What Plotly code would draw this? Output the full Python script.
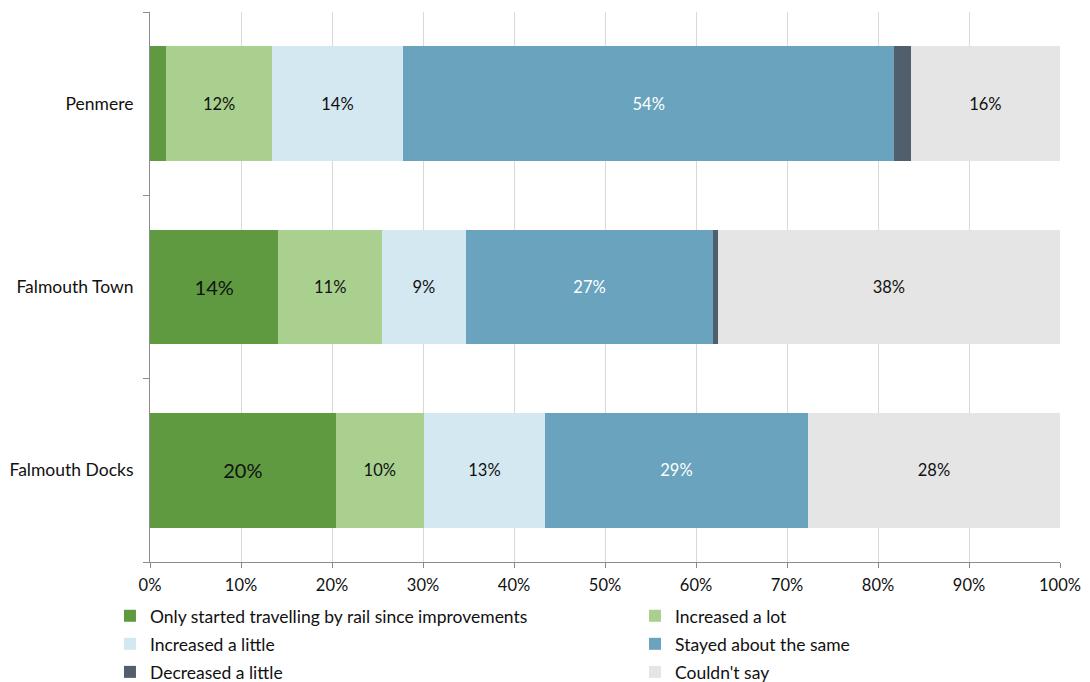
import plotly.graph_objects as go

# Stations (top to bottom as drawn)
stations = ["Penmere", "Falmouth Town", "Falmouth Docks"]

# Share of respondents (%) per response, in station order
only_started = [1.8, 14.1, 20.4]
increased_lot = [11.6, 11.4, 9.7]
increased_little = [14.4, 9.2, 13.3]
stayed_same = [54.0, 27.2, 28.9]
decreased_little = [1.8, 0.5, 0.0]
couldnt_say = [16.4, 37.6, 27.7]

series_names = [
    "Only started travelling by rail since improvements",
    "Increased a lot",
    "Increased a little",
    "Stayed about the same",
    "Decreased a little",
    "Couldn't say",
]
series_values = [only_started, increased_lot, increased_little,
                 stayed_same, decreased_little, couldnt_say]
colors = ["#5F9A40", "#A9D08E", "#D4E8F1", "#69A3BE", "#515F6C", "#E5E5E5"]
label_colors = ["#111111", "#111111", "#111111", "#FFFFFF", "#111111", "#111111"]
label_sizes = [20, 16.5, 16.5, 16.5, 16.5, 16.5]
show_labels = [True, True, True, True, False, True]

x_ticks = list(range(0, 101, 10))
x_tick_text = [f"{t}%" for t in x_ticks]

FONT = "Lato, 'Open Sans', sans-serif"
TEXT = "#111111"

# Legend grid: two columns, three rows; one legend box per entry
legend_cols = [-0.044, 0.533]
legend_rows = [-0.098, -0.149, -0.200]

fig = go.Figure()
legend_layout = {}
for i, (name, vals, col, lcol, lsize, show) in enumerate(zip(
        series_names, series_values, colors, label_colors, label_sizes, show_labels)):
    texts = [f"{round(v)}%" if (show and v >= 3) else "" for v in vals]
    leg_id = "legend" if i == 0 else f"legend{i + 1}"
    fig.add_trace(go.Bar(
        name=name,
        y=stations,
        x=vals,
        orientation="h",
        marker=dict(color=col, line=dict(width=0)),
        text=texts,
        textposition="inside",
        insidetextanchor="middle",
        textangle=0,
        textfont=dict(color=lcol, size=lsize, family=FONT),
        hoverinfo="skip",
        legend=leg_id,
    ))
    legend_layout[leg_id] = dict(
        orientation="h",
        x=legend_cols[i % 2], xanchor="left",
        y=legend_rows[i // 2], yanchor="middle",
        font=dict(size=17.5, family=FONT, color=TEXT),
        itemclick=False,
        bgcolor="rgba(0,0,0,0)",
    )

fig.update_layout(
    barmode="stack",
    bargap=0.373,
    width=1090,
    height=682,
    margin=dict(l=150, r=30, t=12, b=120, autoexpand=False),
    paper_bgcolor="white",
    plot_bgcolor="white",
    font=dict(family=FONT, size=17, color=TEXT),
    showlegend=True,
    xaxis=dict(
        range=[0, 100],
        tickvals=x_ticks,
        ticktext=x_tick_text,
        showgrid=True,
        gridcolor="#D9D9D9",
        gridwidth=1,
        showline=True,
        linecolor="#8C8C8C",
        linewidth=1,
        ticks="outside",
        ticklen=5,
        tickcolor="#8C8C8C",
        zeroline=False,
        ticklabelstandoff=3,
        tickfont=dict(size=16.5, family=FONT, color=TEXT),
        automargin=False,
        fixedrange=True,
    ),
    yaxis=dict(
        categoryorder="array",
        categoryarray=stations[::-1],
        tickson="boundaries",
        ticks="outside",
        ticklen=6,
        tickcolor="#8C8C8C",
        showline=True,
        linecolor="#8C8C8C",
        linewidth=1,
        showgrid=False,
        ticklabelstandoff=12,
        tickfont=dict(size=17.5, family=FONT, color=TEXT),
        automargin=False,
        fixedrange=True,
    ),
    **legend_layout,
)

fig.write_html("out.html")
